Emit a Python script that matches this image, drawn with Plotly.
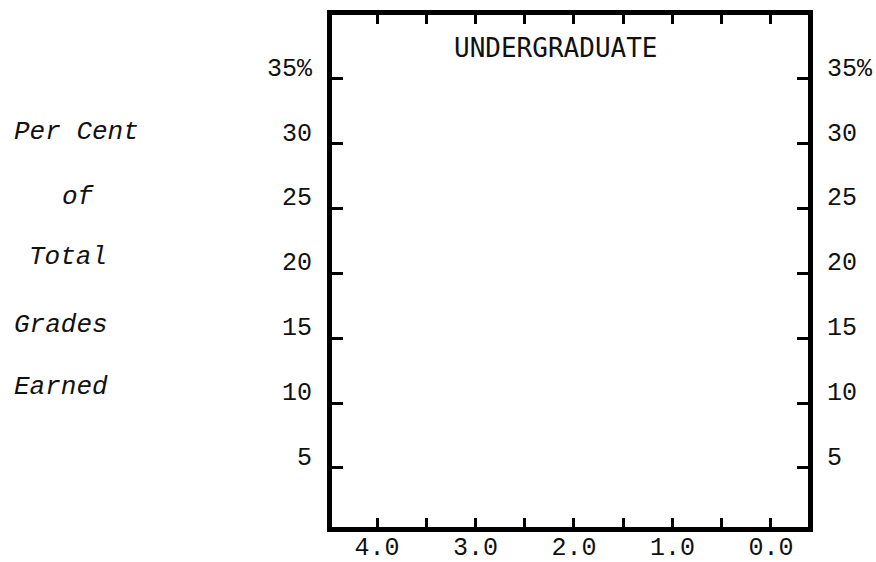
import plotly.graph_objects as go

# Axis definitions
grade_ticks = [4.0, 3.5, 3.0, 2.5, 2.0, 1.5, 1.0, 0.5, 0.0]
grade_labels = ["4.0", "", "3.0", "", "2.0", "", "1.0", "", "0.0"]
pct_ticks = [5, 10, 15, 20, 25, 30, 35]
pct_labels_left = ["5", "10", "15", "20", "25", "30", "35%"]
pct_labels_right = ["5", "10", "15", "20", "25", "30", "35%"]
side_words = ["Per Cent", "of", "Total", "Grades", "Earned"]
title_text = "UNDERGRADUATE"

W, H = 876, 562
L, R, T, B = 332, 808, 15, 527
pw, ph = R - L, B - T

def px(x):
    return (x - L) / pw

def py(y):
    return (B - y) / ph

MONO = "Liberation Mono, monospace"
LINE = "#000000"

fig = go.Figure()
fig.add_trace(go.Scatter(x=[], y=[], mode="markers", showlegend=False))
fig.add_trace(go.Scatter(x=[], y=[], mode="markers", showlegend=False, yaxis="y2"))

fig.update_layout(
    width=W, height=H,
    margin=dict(l=L, r=W - R, t=T, b=H - B, autoexpand=False),
    paper_bgcolor="white", plot_bgcolor="white",
    showlegend=False,
    xaxis=dict(
        range=[4.457, -0.376], automargin=False,
        tickmode="array", tickvals=grade_ticks, ticktext=grade_labels,
        ticks="inside", ticklen=9, tickwidth=3, tickcolor=LINE,
        showline=True, linewidth=5, linecolor=LINE, mirror="ticks",
        showgrid=False, zeroline=False,
        tickfont=dict(family=MONO, size=25, color="#111"),
        ticklabelstandoff=-7,
    ),
    yaxis=dict(
        range=[0.45, 39.93], automargin=False,
        tickmode="array", tickvals=pct_ticks, ticktext=pct_labels_left,
        ticks="inside", ticklen=11, tickwidth=3, tickcolor=LINE,
        showline=True, linewidth=5, linecolor=LINE, mirror=True,
        showgrid=False, zeroline=False,
        tickfont=dict(family=MONO, size=25, color="#111"),
        ticklabelshift=-12, ticklabelstandoff=10,
    ),
    yaxis2=dict(
        range=[0.45, 39.93], overlaying="y", side="right", automargin=False,
        tickmode="array", tickvals=pct_ticks, ticktext=pct_labels_right,
        ticks="inside", ticklen=11, tickwidth=3, tickcolor=LINE,
        showline=True, linewidth=5, linecolor=LINE,
        showgrid=False, zeroline=False,
        tickfont=dict(family=MONO, size=25, color="#111"),
        ticklabelshift=-12, ticklabelstandoff=9,
    ),
)

fig.add_annotation(
    text=title_text, xref="paper", yref="paper",
    x=px(556), y=py(48), xanchor="center", yanchor="middle",
    showarrow=False, font=dict(family="DejaVu Sans Mono, monospace", size=26, color="#111"),
)

word_pos = [(12, 132), (60, 197), (27, 257), (12, 325), (12, 387)]
for word, (wx, wy) in zip(side_words, word_pos):
    fig.add_annotation(
        text="<i>" + word + "</i>", xref="paper", yref="paper",
        x=px(wx), y=py(wy), xanchor="left", yanchor="middle",
        showarrow=False, font=dict(family=MONO, size=26, color="#111"),
    )

fig.write_html(
    "out.html",
    config={"displayModeBar": False, "staticPlot": True},
    post_script="document.body.style.margin='0';",
)
